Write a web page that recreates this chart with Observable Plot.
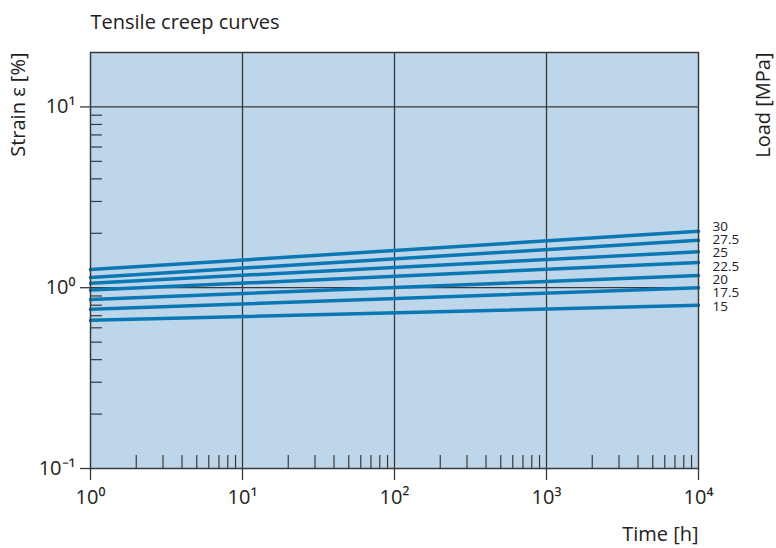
<!DOCTYPE html>
<html>
<head>
<meta charset="utf-8">
<script src="https://cdn.jsdelivr.net/npm/d3@7"></script>
<script src="https://cdn.jsdelivr.net/npm/@observablehq/plot@0.6"></script>
<style>
  html, body { margin: 0; padding: 0; background: #fff; }
</style>
</head>
<body>
<div id="chart"></div>
<script>
// Load levels [MPa] and strain [%] at t = 1 h and t = 10^4 h (straight lines on log-log)
const loads = ["30", "27.5", "25", "22.5", "20", "17.5", "15"];
const timeStart = 1;
const timeEnd = 10000;
const strainStart = [1.26, 1.14, 1.06, 0.97, 0.86, 0.76, 0.66];
const strainEnd = [2.05, 1.83, 1.58, 1.38, 1.17, 1.00, 0.80];

const majorX = [1, 10, 100, 1000, 10000];
const minorX = [2,3,4,5,6,7,8,9, 20,30,40,50,60,70,80,90, 200,300,400,500,600,700,800,900, 2000,3000,4000,5000,6000,7000,8000,9000];
const majorY = [0.1, 1, 10];
const minorY = [0.2,0.3,0.4,0.5,0.6,0.7,0.8,0.9, 2,3,4,5,6,7,8,9];
const gridX = [10, 100, 1000];
const gridY = [1, 10];

const title = "Tensile creep curves";
const yLabel = "Strain ε [%]";
const xLabel = "Time [h]";
const rLabel = "Load [MPa]";

const rows = [];
loads.forEach((l, i) => {
  rows.push({load: l, t: timeStart, e: strainStart[i]});
  rows.push({load: l, t: timeEnd, e: strainEnd[i]});
});

// spread end labels evenly (in log space) around the mean of the line ends, so they don't collide
const logEnds = strainEnd.map(Math.log10);
const meanLog = d3.mean(logEnds);
const step = 0.074;
const ends = loads.map((l, i) => ({load: l, t: timeEnd, e: Math.pow(10, meanLog + ((loads.length - 1) / 2 - i) * step)}));

const supMap = {"0":"⁰","1":"¹","2":"²","3":"³","4":"⁴","-":"⁻"};
const pow10 = d => "10" + String(Math.round(Math.log10(d))).split("").map(c => supMap[c]).join("");

const ink = "#3a3a3a";
const lineColor = "#0a78b4";
const font = "'Open Sans', sans-serif";

const chart = Plot.plot({
  width: 776,
  height: 548,
  marginLeft: 90,
  marginRight: 78,
  marginTop: 52,
  marginBottom: 80,
  style: {fontFamily: font, fontSize: "20px", color: "#222", background: "#fff", overflow: "visible"},
  x: {type: "log", domain: [1, 10000], axis: null},
  y: {type: "log", domain: [0.1, 20], axis: null},
  marks: [
    Plot.frame({fill: "#bdd6ea", stroke: null}),
    Plot.ruleX(gridX, {stroke: ink, strokeWidth: 1.3}),
    Plot.ruleY(gridY, {stroke: ink, strokeWidth: 1.3}),
    Plot.axisX(minorX, {anchor: "bottom", label: null, tickSize: -13, tickFormat: () => "", stroke: ink, strokeWidth: 1.2}),
    Plot.axisY(minorY, {anchor: "left", label: null, tickSize: -12, tickFormat: () => "", stroke: ink, strokeWidth: 1.2}),
    Plot.line(rows, {x: "t", y: "e", z: "load", stroke: lineColor, strokeWidth: 3.5}),
    Plot.frame({stroke: ink, strokeWidth: 1.5}),
    Plot.axisX(majorX, {anchor: "bottom", label: null, tickSize: 12, tickPadding: 9, tickFormat: pow10, fontSize: 20, stroke: ink, strokeWidth: 1.3, fill: "#222"}),
    Plot.axisY(majorY, {anchor: "left", label: null, tickSize: 10, tickPadding: 5, tickFormat: pow10, fontSize: 20, stroke: ink, strokeWidth: 1.3, fill: "#222"}),
    Plot.text(ends, {x: "t", y: "e", text: "load", dx: 14, dy: 1.5, textAnchor: "start", fontSize: 13.5, fill: "#222"}),
    Plot.text([title], {frameAnchor: "top-left", dy: -30, textAnchor: "start", lineAnchor: "middle", fontSize: 20, fill: "#222"}),
    Plot.text([xLabel], {frameAnchor: "bottom-right", dy: 66, textAnchor: "end", lineAnchor: "middle", fontSize: 20, fill: "#222"}),
    Plot.text([yLabel], {frameAnchor: "top-left", dx: -72, rotate: -90, textAnchor: "end", lineAnchor: "middle", fontSize: 20, fill: "#222"}),
    Plot.text([rLabel], {frameAnchor: "top-right", dx: 65, rotate: -90, textAnchor: "end", lineAnchor: "middle", fontSize: 20, fill: "#222"})
  ]
});
document.getElementById("chart").append(chart);
</script>
</body>
</html>
